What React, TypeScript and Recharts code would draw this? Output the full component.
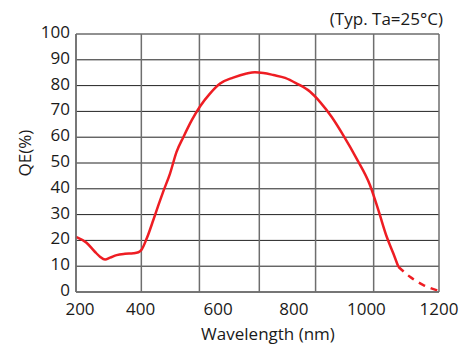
import React from 'react';
import { LineChart, Line, XAxis, YAxis, CartesianGrid, ReferenceLine, Label } from 'recharts';

// measured curve, wavelength (nm) vs QE (%)
const solidWl = [200, 229, 252, 266, 280, 294, 312, 335, 358, 372, 381, 395, 413, 427, 441, 459, 477, 496, 519, 542, 569, 597, 633, 670, 693, 716, 744, 776, 808, 845, 872, 904, 936, 973, 1010, 1033, 1056, 1074, 1088];
const solidQe = [21.4, 19.1, 15.6, 13.7, 12.6, 13.3, 14.3, 14.8, 15.0, 15.4, 16.5, 20.8, 27.9, 33.7, 39.2, 45.9, 54.3, 60.1, 66.6, 72.0, 76.9, 80.8, 83.1, 84.7, 85.2, 84.9, 84.1, 83.0, 80.8, 77.6, 73.7, 67.9, 60.8, 51.7, 41.4, 31.7, 21.4, 15.0, 9.8];
const tailWl = [1088, 1120, 1157, 1198];
const tailQe = [9.8, 5.9, 2.7, 0.5];

const xTicks = [200, 400, 600, 800, 1000, 1200];
const yTicks = [0, 10, 20, 30, 40, 50, 60, 70, 80, 90, 100];
const vGrid = [200, 380, 540, 705, 860, 1020, 1200];

const data = [
  ...solidWl.map((wl, i) => ({ wl, solid: solidQe[i], tail: wl === tailWl[0] ? tailQe[0] : null })),
  ...tailWl.slice(1).map((wl, i) => ({ wl, solid: null, tail: tailQe[i + 1] })),
];

const font = '"Open Sans", "Noto Sans", sans-serif';
const tickShift: Record<number, number> = { 200: 4, 400: -8, 600: -3 };

const XTick = (props: any) => {
  const { x, y, payload } = props;
  return (
    <text x={x + (tickShift[payload.value] ?? 0)} y={y} dy="0.71em" textAnchor="middle" fill="#1a1a1a" fontSize={17} fontFamily={font}>
      {payload.value}
    </text>
  );
};

const YTick = (props: any) => {
  const { x, y, payload } = props;
  return (
    <text x={x} y={y - 2} dy="0.355em" textAnchor="end" fill="#1a1a1a" fontSize={17} fontFamily={font}>
      {payload.value}
    </text>
  );
};

export default function App() {
  return (
    <div style={{ position: 'absolute', left: 0, top: 0, width: 459, height: 345, background: '#fff', fontFamily: font }}>
      <div style={{ position: 'absolute', right: 16, top: 7, fontSize: 17, color: '#1a1a1a' }}>(Typ. Ta=25°C)</div>
      <LineChart width={459} height={345} data={data} margin={{ top: 34, right: 20, bottom: 0, left: 0 }}>
        <CartesianGrid vertical={false} stroke="#222" strokeWidth={1} />
        {vGrid.map(v => (
          <ReferenceLine key={v} x={v} stroke="#6e6e6e" strokeWidth={1.5} />
        ))}
        <XAxis
          dataKey="wl"
          type="number"
          domain={[200, 1200]}
          ticks={xTicks}
          height={53}
          tickSize={0}
          tickMargin={11}
          tick={<XTick />}
          axisLine={{ stroke: '#6e6e6e', strokeWidth: 1.5 }}
          tickLine={false}
        >
          <Label value="Wavelength (nm)" position="center" dx={10.5} dy={15} fill="#1a1a1a" fontSize={17} fontFamily={font} />
        </XAxis>
        <YAxis
          type="number"
          domain={[0, 100]}
          ticks={yTicks}
          width={76}
          tickSize={0}
          tickMargin={6}
          tick={<YTick />}
          axisLine={{ stroke: '#6e6e6e', strokeWidth: 1.5 }}
          tickLine={false}
        >
          <Label value="QE(%)" position="center" angle={-90} dx={-13} dy={-10} fill="#1a1a1a" fontSize={17} fontFamily={font} />
        </YAxis>
        <Line type="monotone" dataKey="solid" stroke="#ee1d23" strokeWidth={2.5} dot={false} activeDot={false} isAnimationActive={false} />
        <Line type="monotone" dataKey="tail" stroke="#ee1d23" strokeWidth={2.5} strokeDasharray="7 6" dot={false} activeDot={false} isAnimationActive={false} />
      </LineChart>
    </div>
  );
}
